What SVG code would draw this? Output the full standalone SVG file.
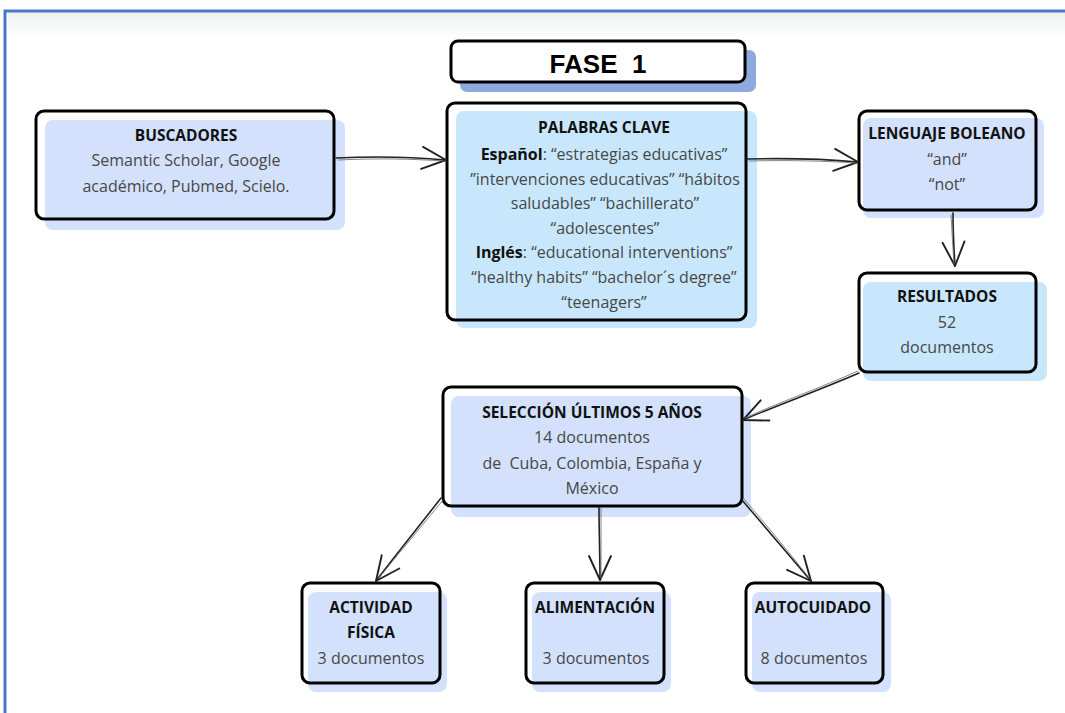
<svg xmlns="http://www.w3.org/2000/svg" width="1065" height="713" viewBox="0 0 1065 713">
<style>
.bd{fill:none;stroke:#000;stroke-width:3}
.bdw{fill:#fff;stroke:#000;stroke-width:3}
.sp{fill:#d3e1fc}
.sc{fill:#c8e7fc}
.t{font-family:"Open Sans","Liberation Sans",sans-serif;font-size:15.5px;font-weight:bold;fill:#111;text-anchor:middle}
.b{font-family:"Open Sans","Liberation Sans",sans-serif;font-size:16px;fill:#474747;text-anchor:middle;white-space:pre}
.b tspan.k{font-weight:bold;fill:#111}
.c{fill:none;stroke:#222;stroke-width:1.6;stroke-linecap:round}
.c2{fill:none;stroke:#666;stroke-width:0.8;stroke-linecap:round}
</style>
<defs>
<linearGradient id="topfade" x1="0" y1="0" x2="0" y2="1">
<stop offset="0" stop-color="#eef0f0"/>
<stop offset="1" stop-color="#ffffff"/>
</linearGradient>
<marker id="ah" markerUnits="userSpaceOnUse" orient="auto" markerWidth="34" markerHeight="34" viewBox="-30 -17 34 34" refX="0" refY="0">
<path d="M-24,-11 L0,0 L-24,11" fill="none" stroke="#222" stroke-width="1.9" stroke-linecap="round" stroke-linejoin="round"/>
</marker>
</defs>
<rect width="1065" height="713" fill="#fff"/>
<rect x="8" y="12" width="1057" height="26" fill="url(#topfade)"/>
<path d="M5,713 L5,11 L1065,11" fill="none" stroke="#4a78c8" stroke-width="3"/>

<g id="fase1">
<rect x="460" y="50" width="296" height="42" rx="7" fill="#8eaadc"/>
<rect x="451" y="41" width="294" height="41" rx="7" class="bdw"/>
<text x="598" y="73" font-family="Liberation Sans, Arial, sans-serif" font-size="26" font-weight="bold" fill="#000" text-anchor="middle" style="white-space:pre">FASE  1</text>
</g>

<g id="buscadores">
<rect x="45" y="120" width="300" height="110" rx="8" class="sp"/>
<rect x="36" y="111" width="298" height="108" rx="8" class="bd"/>
<text x="186" y="141" class="t">BUSCADORES</text>
<text x="186" y="166" class="b">Semantic Scholar, Google</text>
<text x="186" y="192" class="b">académico, Pubmed, Scielo.</text>
</g>

<g id="palabras">
<rect x="456" y="111" width="301" height="217" rx="8" class="sc"/>
<rect x="447" y="103" width="299" height="217" rx="8" class="bd"/>
<text x="604" y="133" class="t">PALABRAS CLAVE</text>
<text x="604" y="160" class="b"><tspan class="k">Español</tspan>: “estrategias educativas”</text>
<text x="605" y="185" class="b">”intervenciones educativas” “hábitos</text>
<text x="605" y="209" class="b">saludables” “bachillerato”</text>
<text x="605" y="234" class="b">“adolescentes”</text>
<text x="604" y="258" class="b"><tspan class="k">Inglés</tspan>: “educational interventions”</text>
<text x="604" y="283" class="b">“healthy habits” “bachelor´s degree”</text>
<text x="604" y="308" class="b">“teenagers”</text>
</g>

<g id="lenguaje">
<rect x="863" y="118" width="181" height="100" rx="8" class="sp"/>
<rect x="859" y="111" width="177" height="99" rx="8" class="bd"/>
<text x="947" y="139" class="t">LENGUAJE BOLEANO</text>
<text x="947" y="165" class="b">“and”</text>
<text x="947" y="190" class="b">“not”</text>
</g>

<g id="resultados">
<rect x="863" y="282" width="184" height="99" rx="8" class="sc"/>
<rect x="859" y="273" width="177" height="99" rx="8" class="bd"/>
<text x="947" y="302" class="t">RESULTADOS</text>
<text x="947" y="328" class="b">52</text>
<text x="947" y="353" class="b">documentos</text>
</g>

<g id="seleccion">
<rect x="451" y="396" width="300" height="121" rx="8" class="sp"/>
<rect x="443" y="387" width="299" height="119" rx="8" class="bd"/>
<text x="592" y="418" class="t">SELECCIÓN ÚLTIMOS 5 AÑOS</text>
<text x="592" y="443" class="b">14 documentos</text>
<text x="592" y="469" class="b">de  Cuba, Colombia, España y</text>
<text x="592" y="494" class="b">México</text>
</g>

<g id="actividad">
<rect x="308" y="592" width="139" height="100" rx="8" class="sp"/>
<rect x="302" y="583" width="138" height="100" rx="8" class="bd"/>
<text x="371" y="613" class="t">ACTIVIDAD</text>
<text x="371" y="638" class="t">FÍSICA</text>
<text x="371" y="664" class="b">3 documentos</text>
</g>

<g id="alimentacion">
<rect x="532" y="592" width="139" height="100" rx="8" class="sp"/>
<rect x="526" y="583" width="138" height="100" rx="8" class="bd"/>
<text x="595" y="613" class="t">ALIMENTACIÓN</text>
<text x="596" y="664" class="b">3 documentos</text>
</g>

<g id="autocuidado">
<rect x="752" y="592" width="139" height="100" rx="8" class="sp"/>
<rect x="746" y="583" width="137" height="100" rx="8" class="bd"/>
<text x="813" y="613" class="t">AUTOCUIDADO</text>
<text x="814" y="664" class="b">8 documentos</text>
</g>

<g id="connectors">
<path class="c" d="M336,158 C380,156 412,157 446,160" marker-end="url(#ah)"/>
<path class="c2" d="M338,160 C380,158 412,159 444,161"/>
<path class="c" d="M747,159 C790,158 825,159 858,162" marker-end="url(#ah)"/>
<path class="c2" d="M749,161 C790,160 825,161 856,163"/>
<path class="c" d="M953,213 C953,232 954,250 955,266" marker-end="url(#ah)"/>
<path class="c2" d="M951,215 C952,232 953,250 954,264"/>
<path class="c" d="M859,373 C820,390 780,404 743,420" marker-end="url(#ah)"/>
<path class="c2" d="M858,371 C820,388 780,402 745,418"/>
<path class="c" d="M441,498 C420,525 398,552 376,581" marker-end="url(#ah)"/>
<path class="c2" d="M443,500 C421,527 399,553 378,579"/>
<path class="c" d="M599,507 C599,530 600,555 600,580" marker-end="url(#ah)"/>
<path class="c2" d="M601,508 C601,530 601,555 601,578"/>
<path class="c" d="M742,500 C765,527 788,554 811,581" marker-end="url(#ah)"/>
<path class="c2" d="M744,499 C767,526 789,552 810,579"/>
</g>
</svg>
